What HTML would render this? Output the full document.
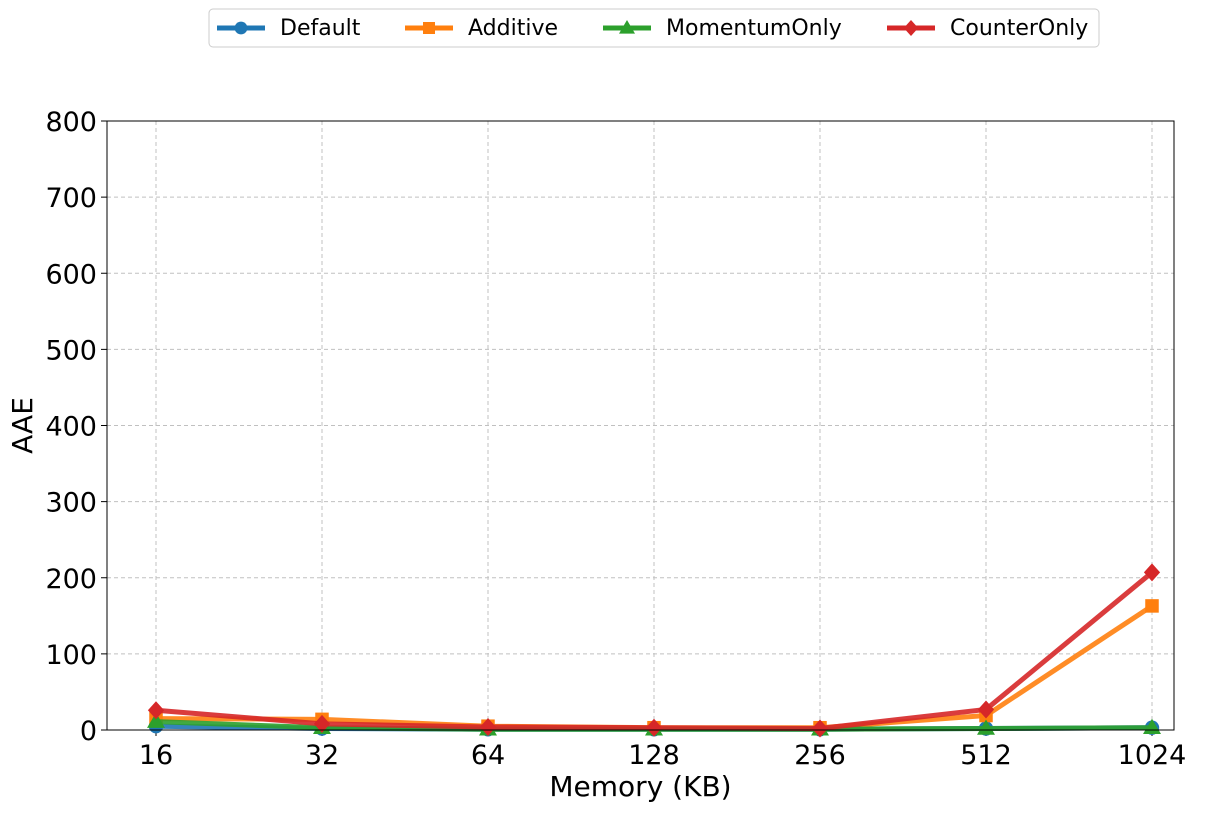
<!DOCTYPE html>
<html><head><meta charset="utf-8"><style>
body{margin:0;background:#fff;font-family:"Liberation Sans","DejaVu Sans",sans-serif}
</style></head><body>
<svg id="chart" width="1211" height="811" xmlns="http://www.w3.org/2000/svg" font-family="DejaVu Sans, Liberation Sans, sans-serif"></svg>
<script>
const categories=["16","32","64","128","256","512","1024"];
const yTicks=[0,100,200,300,400,500,600,700,800];
const seriesNames=["Default","Additive","MomentumOnly","CounterOnly"];
const defaultVals=[5,2,1,1,1,2,3];
const additiveVals=[15,14,5,3,3,19,163];
const momentumVals=[11,3,1,1,1,2,3];
const counterVals=[26,8,4,3,2,27,207];
const colors=["#1f77b4","#ff7f0e","#2ca02c","#d62728"];
const markers=["circle","square","triangle","diamond"];
const svg=document.getElementById('chart');
const NS="http://www.w3.org/2000/svg";
const L=107,R=1174,T=121,B=730;
const x=i=>156+i*(1152-156)/(categories.length-1);
const y=v=>B-(v/800)*(B-T);
function mk(tag,attrs,parent){const e=document.createElementNS(NS,tag);for(const k in attrs)e.setAttribute(k,attrs[k]);(parent||svg).appendChild(e);return e;}
yTicks.forEach(t=>{
 const g=mk('line',{x1:L,x2:R,y1:y(t),y2:y(t),stroke:'#c0c0c0','stroke-dasharray':'4,3','stroke-width':1});
 
 
 const tk=mk('line',{x1:L-6,x2:L,y1:y(t),y2:y(t),stroke:'#000'});
 
 
 const tx=mk('text',{x:L-10,y:y(t)+10,'text-anchor':'end','font-size':27});
 tx.textContent=t;
 
 
});
categories.forEach((c,i)=>{
 const g=mk('line',{x1:x(i),x2:x(i),y1:T,y2:B,stroke:'#c0c0c0','stroke-dasharray':'4,3','stroke-width':1});
 
 
 const tk=mk('line',{x1:x(i),x2:x(i),y1:B,y2:B+6,stroke:'#000'});
 
 
 const tx=mk('text',{x:x(i),y:B+34,'text-anchor':'middle','font-size':27});
 tx.textContent=c;
 
 
});
function marker(type,cx,cy,s,col,parent){
 let e;
 if(type==='circle')e=mk('circle',{cx,cy,r:s*0.8,fill:col},parent);
 else if(type==='square')e=mk('rect',{x:cx-s*0.75,y:cy-s*0.75,width:s*1.5,height:s*1.5,fill:col},parent);
 else if(type==='triangle')e=mk('polygon',{points:`${cx},${cy-s} ${cx-s},${cy+s*0.7} ${cx+s},${cy+s*0.7}`,fill:col},parent);
 else e=mk('polygon',{points:`${cx},${cy-s} ${cx+s*0.9},${cy} ${cx},${cy+s} ${cx-s*0.9},${cy}`,fill:col},parent);
 return e;
}
const all=[defaultVals,additiveVals,momentumVals,counterVals];
all.forEach((vals,si)=>{
 const g=mk('g',{});
 
 
 const p=mk('polyline',{points:vals.map((v,i)=>x(i)+','+y(v)).join(' '),fill:'none',stroke:colors[si],'stroke-width':5,'stroke-linejoin':'round','stroke-opacity':0.9},g);
 
 
 vals.forEach((v,i)=>{
  const m=marker(markers[si],x(i),y(v),9,colors[si],g);
  
  
 });
});
const frame=mk('rect',{x:L,y:T,width:R-L,height:B-T,fill:'none',stroke:'#000','stroke-width':1});


const xt=mk('text',{x:(L+R)/2,y:796,'text-anchor':'middle','font-size':28});
xt.textContent='Memory (KB)';


const yt=mk('text',{x:0,y:0,'text-anchor':'middle','font-size':28,transform:`translate(32,${(T+B)/2}) rotate(-90)`});
yt.textContent='AAE';


const lg=mk('g',{});


const lb=mk('rect',{x:209,y:9,width:890,height:38,rx:4,fill:'#fff',stroke:'#ccc'},lg);


const lx=[217,405,603,887];
seriesNames.forEach((n,i)=>{
 const e=mk('g',{},lg);
 
 
 mk('line',{x1:lx[i],x2:lx[i]+48,y1:28,y2:28,stroke:colors[i],'stroke-width':5},e);
 marker(markers[i],lx[i]+24,28,8,colors[i],e);
 const t=mk('text',{x:lx[i]+63,y:35,'font-size':22},e);
 t.textContent=n;
});
</script>
</body></html>
